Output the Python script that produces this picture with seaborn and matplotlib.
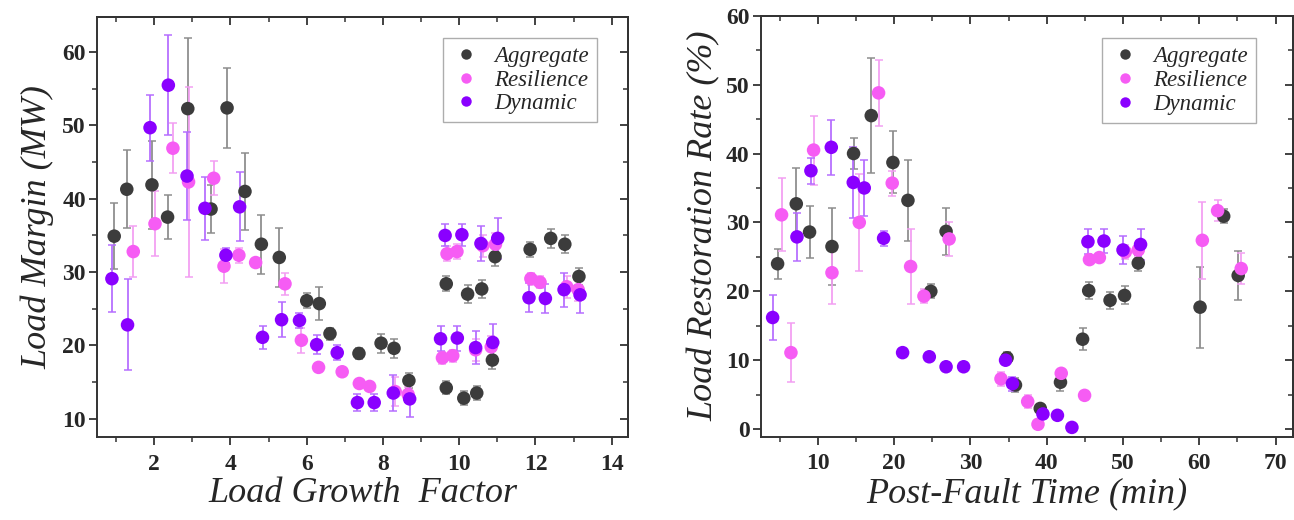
import numpy as np
import pandas as pd
import matplotlib
matplotlib.use("Agg")
import matplotlib.pyplot as plt
from matplotlib.lines import Line2D
from matplotlib.ticker import MultipleLocator
import seaborn as sns

# ---------------- data: left panel (Load Growth Factor vs Load Margin) ----------------
series_names = ["Aggregate", "Resilience", "Dynamic"]

lg_agg_x = [0.95, 1.28, 1.94, 2.35, 2.88, 3.49, 3.91, 4.38, 4.81, 5.28, 6.0, 6.33, 6.61, 7.37, 7.95,
            8.29, 8.68, 9.66, 10.12, 10.46, 10.87, 9.66, 10.22, 10.59, 10.94, 11.86, 12.40, 12.77, 13.14]
lg_agg_y = [34.9, 41.3, 41.9, 37.5, 52.3, 38.6, 52.4, 41.0, 33.8, 32.0, 26.1, 25.7, 21.6, 18.9, 20.3,
            19.6, 15.2, 14.2, 12.8, 13.5, 18.0, 28.4, 27.0, 27.7, 32.1, 33.1, 34.6, 33.8, 29.4]
lg_agg_e = [4.5, 5.3, 6.0, 3.0, 9.6, 3.3, 5.5, 5.3, 4.0, 4.0, 1.0, 2.3, 0.8, 0.8, 1.3,
            1.3, 1.0, 0.9, 1.0, 1.0, 1.2, 1.0, 1.2, 1.2, 1.3, 1.0, 1.3, 1.2, 1.2]

lg_res_x = [1.45, 2.02, 2.49, 2.90, 3.56, 3.83, 4.22, 4.66, 5.43, 5.86, 6.31, 6.93, 7.38, 7.65, 8.32,
            8.66, 9.56, 9.83, 10.43, 10.84, 9.68, 9.94, 10.62, 10.95, 11.88, 12.12, 12.82, 13.12]
lg_res_y = [32.8, 36.6, 46.9, 42.3, 42.8, 30.8, 32.3, 31.3, 28.4, 20.7, 17.0, 16.4, 14.8, 14.4, 13.7,
            13.3, 18.3, 18.6, 19.4, 19.8, 32.5, 32.8, 33.6, 33.8, 29.1, 28.6, 28.0, 27.6]
lg_res_e = [3.5, 4.4, 3.4, 13.0, 2.3, 2.3, 1.0, 0.5, 1.5, 1.7, 0.5, 0.5, 0.5, 0.5, 2.0,
            1.0, 0.8, 0.8, 1.5, 1.5, 1.0, 1.0, 1.5, 1.5, 0.8, 0.8, 1.5, 1.5]

lg_dyn_x = [0.89, 1.30, 1.89, 2.37, 2.86, 3.33, 3.88, 4.24, 4.84, 5.34, 5.81, 6.26, 6.80, 7.33, 7.77,
            8.27, 8.70, 9.51, 9.95, 10.43, 10.88, 9.63, 10.07, 10.57, 11.01, 11.83, 12.26, 12.75, 13.17]
lg_dyn_y = [29.1, 22.8, 49.7, 55.5, 43.1, 38.7, 32.3, 38.9, 21.1, 23.5, 23.4, 20.1, 19.0, 12.2, 12.2,
            13.5, 12.7, 20.9, 21.0, 19.7, 20.4, 35.0, 35.1, 33.9, 34.6, 26.5, 26.4, 27.6, 26.9]
lg_dyn_e = [4.6, 6.2, 4.5, 6.8, 6.0, 4.3, 1.0, 4.7, 1.6, 2.4, 1.0, 1.3, 1.0, 1.2, 1.2,
            2.4, 2.5, 1.7, 1.7, 2.3, 2.5, 1.5, 1.5, 2.4, 2.8, 2.0, 2.0, 2.3, 2.5]

# ---------------- data: right panel (Post-Fault Time vs Load Restoration Rate) ----------------
pf_agg_x = [4.71, 7.16, 8.9, 11.84, 14.67, 16.99, 19.83, 21.8, 24.8, 26.8, 34.8, 35.9, 39.15, 41.8,
            44.7, 45.5, 48.3, 50.2, 52.0, 60.1, 63.2, 65.1]
pf_agg_y = [24.0, 32.7, 28.6, 26.5, 40.0, 45.5, 38.7, 33.2, 20.0, 28.7, 10.35, 6.4, 3.0, 6.8,
            13.05, 20.1, 18.7, 19.4, 24.1, 17.7, 30.9, 22.3]
pf_agg_e = [2.2, 5.2, 3.8, 5.6, 2.2, 8.4, 4.5, 5.9, 1.0, 3.4, 0.8, 1.0, 0.5, 1.3,
            1.6, 1.2, 1.2, 1.3, 1.2, 5.9, 1.0, 3.6]

pf_res_x = [5.23, 6.46, 9.43, 11.84, 15.42, 17.95, 19.74, 22.15, 23.9, 27.2, 34.0, 37.5, 38.85, 41.9,
            44.96, 45.6, 46.9, 50.3, 52.0, 60.4, 62.4, 65.5]
pf_res_y = [31.1, 11.1, 40.5, 22.7, 30.0, 48.8, 35.7, 23.6, 19.3, 27.6, 7.3, 4.0, 0.7, 8.1,
            4.9, 24.6, 24.9, 25.7, 26.0, 27.4, 31.7, 23.3]
pf_res_e = [5.3, 4.3, 5.0, 4.5, 7.0, 4.8, 1.8, 5.5, 1.0, 2.5, 1.0, 1.0, 0.0, 0.5,
            0.0, 0.5, 0.5, 1.0, 1.0, 5.6, 1.5, 2.3]

pf_dyn_x = [4.06, 7.25, 9.08, 11.75, 14.63, 16.07, 18.61, 21.1, 24.6, 26.8, 29.1, 34.6, 35.5, 39.5,
            41.4, 43.3, 45.4, 47.5, 50.0, 52.3]
pf_dyn_y = [16.2, 27.9, 37.5, 40.9, 35.8, 35.0, 27.7, 11.1, 10.5, 9.05, 9.05, 10.0, 6.6, 2.2,
            2.0, 0.25, 27.2, 27.3, 26.0, 26.8]
pf_dyn_e = [3.3, 3.5, 1.9, 4.0, 5.2, 4.0, 1.1, 0.0, 0.0, 0.0, 0.0, 0.5, 1.0, 0.0,
            0.0, 0.0, 1.8, 1.8, 2.0, 2.2]

left_xticks = [2, 4, 6, 8, 10, 12, 14]
left_yticks = [10, 20, 30, 40, 50, 60]
right_xticks = [10, 20, 30, 40, 50, 60, 70]
right_yticks = [0, 10, 20, 30, 40, 50, 60]

colors = {"Aggregate": "#3c3c3c", "Resilience": "#f65cf4", "Dynamic": "#8a00ff"}
err_colors = {"Aggregate": "#8c8c8c", "Resilience": "#f39ef2", "Dynamic": "#b56cff"}


def make_df(xs, ys, es):
    frames = []
    for name, x, y, e in zip(series_names, xs, ys, es):
        frames.append(pd.DataFrame({"x": x, "y": y, "err": e, "series": name}))
    return pd.concat(frames, ignore_index=True)


left_df = make_df([lg_agg_x, lg_res_x, lg_dyn_x], [lg_agg_y, lg_res_y, lg_dyn_y],
                  [lg_agg_e, lg_res_e, lg_dyn_e])
right_df = make_df([pf_agg_x, pf_res_x, pf_dyn_x], [pf_agg_y, pf_res_y, pf_dyn_y],
                   [pf_agg_e, pf_res_e, pf_dyn_e])

sns.set_theme(style="ticks")
plt.rcParams["font.family"] = ["Liberation Serif", "DejaVu Serif"]
plt.rcParams["axes.edgecolor"] = "#333333"
plt.rcParams["axes.linewidth"] = 1.4

fig = plt.figure(figsize=(12.94, 5.2), dpi=100)
axL = fig.add_axes([0.0750, 0.1596, 0.4104, 0.8077])
axR = fig.add_axes([0.5879, 0.1602, 0.4114, 0.8096])


def draw_panel(ax, df, xlim, ylim, xticks, yticks, xminor, yminor, xlabel, ylabel, leg_anchor,
               ylabelpad):
    for name in series_names:
        sub = df[df["series"] == name]
        ax.errorbar(sub["x"], sub["y"], yerr=sub["err"], fmt="none", ecolor=err_colors[name],
                    elinewidth=1.4, capsize=3, capthick=1.2, alpha=0.9, zorder=2)
    sns.scatterplot(data=df, x="x", y="y", hue="series", hue_order=series_names, palette=colors,
                    s=95, edgecolor="none", linewidth=0, legend=False, ax=ax, zorder=3)
    ax.set_xlim(*xlim)
    ax.set_ylim(*ylim)
    ax.set_xticks(xticks)
    ax.set_yticks(yticks)
    ax.xaxis.set_minor_locator(MultipleLocator(xminor))
    ax.yaxis.set_minor_locator(MultipleLocator(yminor))
    ax.tick_params(which="major", direction="out", length=6, width=1.3, color="#333333",
                   labelsize=17)
    ax.tick_params(axis="x", which="major", pad=6)
    ax.tick_params(axis="y", which="major", pad=2)
    ax.tick_params(which="minor", direction="out", length=3.5, width=1.1, color="#333333")
    for lab in ax.get_xticklabels() + ax.get_yticklabels():
        lab.set_fontweight("bold")
    for sp in ax.spines.values():
        sp.set_visible(True)
    secx = ax.secondary_xaxis("top")
    secx.set_xticks(xticks)
    secx.xaxis.set_minor_locator(MultipleLocator(xminor))
    secx.tick_params(which="major", direction="in", length=6, width=1.3, color="#333333", labeltop=False)
    secx.tick_params(which="minor", direction="in", length=3.5, width=1.1, color="#333333")
    secy = ax.secondary_yaxis("right")
    secy.set_yticks(yticks)
    secy.yaxis.set_minor_locator(MultipleLocator(yminor))
    secy.tick_params(which="major", direction="in", length=6, width=1.3, color="#333333", labelright=False)
    secy.tick_params(which="minor", direction="in", length=3.5, width=1.1, color="#333333")
    ax.set_xlabel(xlabel, fontsize=26, fontstyle="italic", labelpad=2)
    ax.set_ylabel(ylabel, fontsize=26, fontstyle="italic", labelpad=ylabelpad)
    handles = [Line2D([], [], marker="o", linestyle="", markersize=7.5, color=colors[n],
                      markeredgewidth=0) for n in series_names]
    leg = ax.legend(handles, series_names, loc="upper right", bbox_to_anchor=leg_anchor,
                    borderaxespad=0, frameon=True, fancybox=False, edgecolor="#999999",
                    prop={"family": ["Liberation Serif"], "style": "italic", "size": 16.5},
                    handletextpad=0.6, labelspacing=0.12, borderpad=0.35, handlelength=1.3)
    leg.get_frame().set_linewidth(1.0)


draw_panel(axL, left_df, (0.5, 14.43), (7.5, 64.8), left_xticks, left_yticks, 1, 5,
           "Load Growth  Factor", "Load Margin (MW)", (0.9416, 0.9507), 6)
draw_panel(axR, right_df, (2.5, 72.3), (-1.1, 60), right_xticks, right_yticks, 5, 5,
           "Post-Fault Time (min)", "Load Restoration Rate (%)", (0.9305, 0.9463), 4)

fig.savefig("out.png", dpi=100)
